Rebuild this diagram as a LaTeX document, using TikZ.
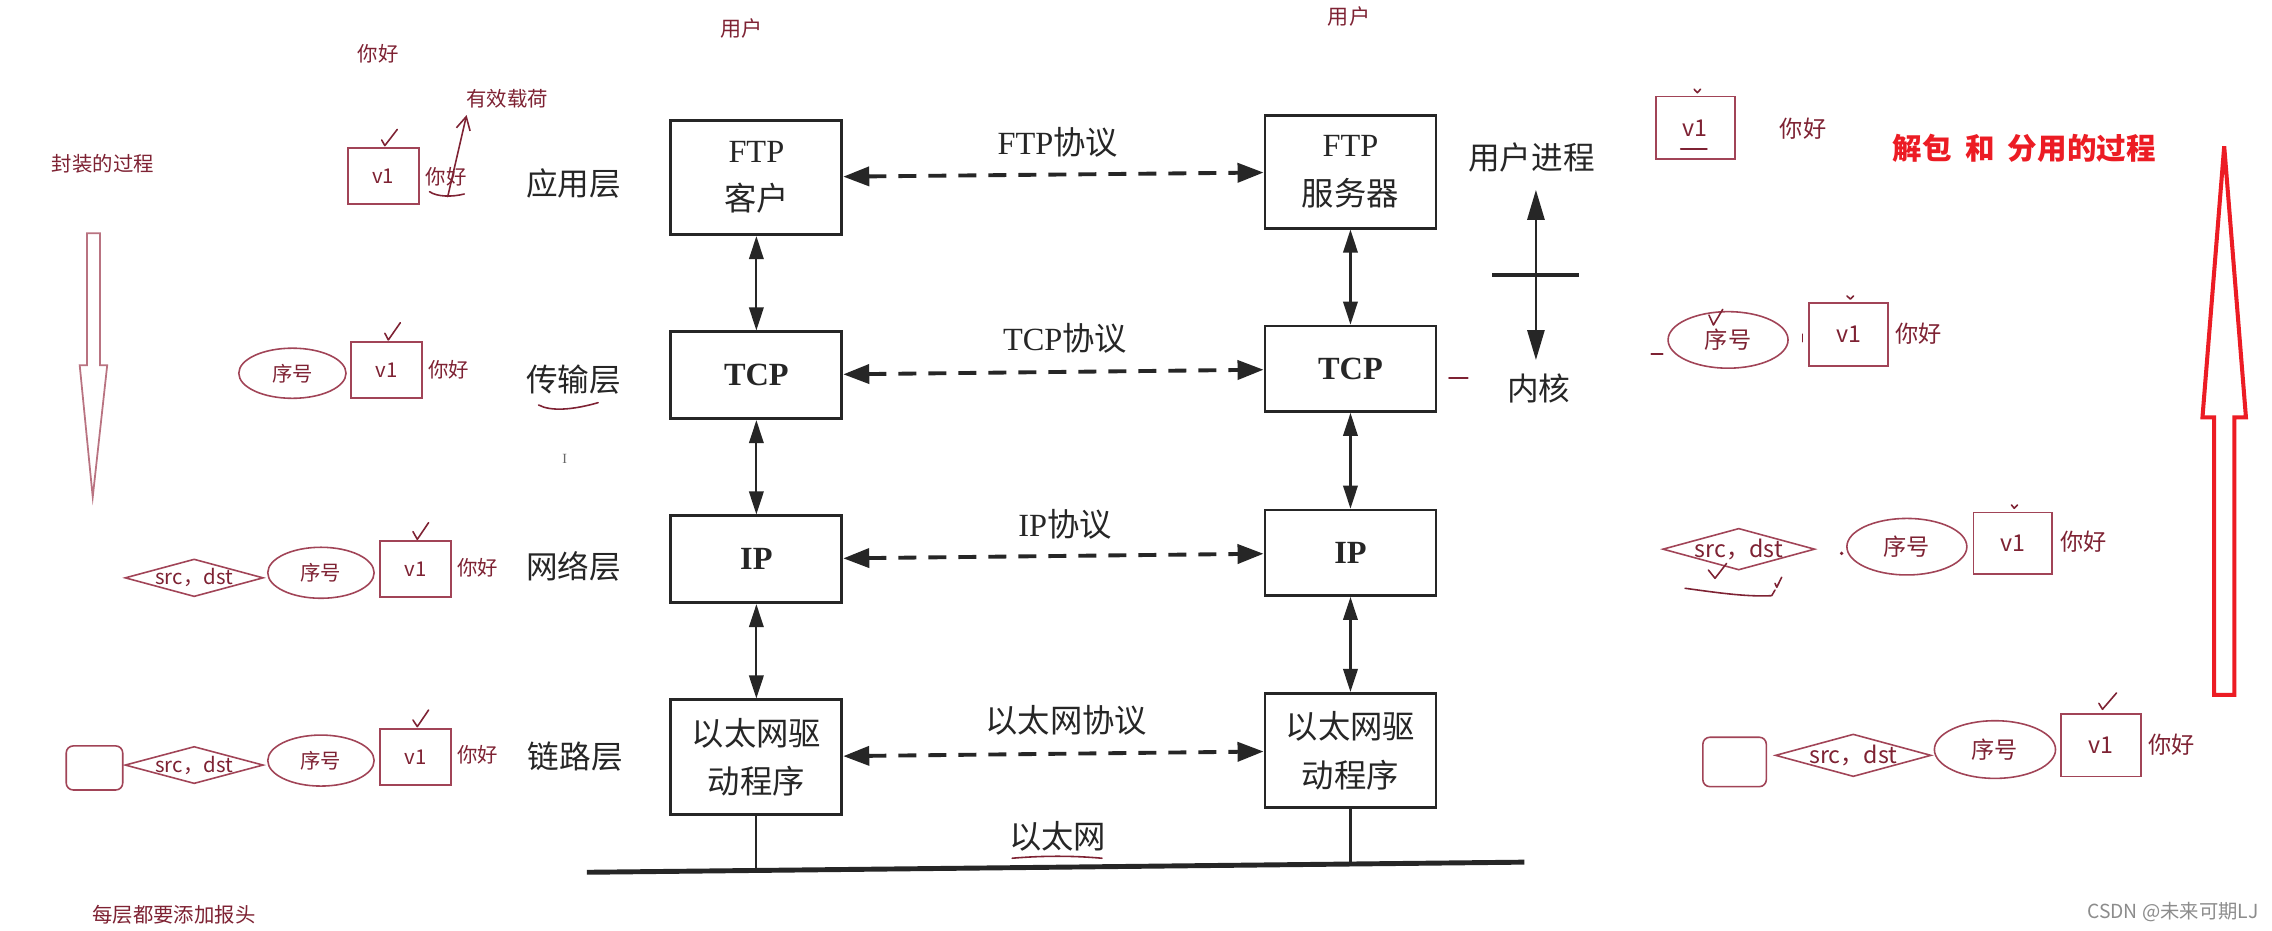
\documentclass[tikz,border=0pt]{standalone}
\usepackage{fontspec}
\setmainfont{Liberation Serif}
\newfontfamily\cjk{Noto Sans CJK SC}
\usetikzlibrary{arrows.meta,shapes.geometric}
\definecolor{ink}{HTML}{262626}
\definecolor{pen}{HTML}{7E2233}
\definecolor{penline}{HTML}{A14457}
\definecolor{alert}{HTML}{EC1C24}
\newcommand{\unitpx}{0.1449mm}

\begin{document}
\begin{tikzpicture}[x=0.1449mm, y=-0.1449mm,
  stackbox/.style={draw=ink, line width=0.8pt, minimum width=118*\unitpx, inner sep=0pt,
    align=center, text=ink, font=\fontsize{9.2}{13.8}\selectfont},
  layername/.style={text=ink, font=\cjk\fontsize{9}{10}\selectfont},
  proto/.style={text=ink, font=\fontsize{9.2}{10}\selectfont},
  updown/.style={ink, line width=0.6pt, arrows={Triangle[length=2.3mm,width=1.45mm]-Triangle[length=2.3mm,width=1.45mm]}},
  peer/.style={ink, line width=1.1pt, dash pattern=on 1.8mm off 1.2mm,
    arrows={Triangle[length=2.6mm,width=1.9mm]-Triangle[length=2.6mm,width=1.9mm]}},
  note/.style={text=pen, inner sep=0pt, font=\cjk\fontsize{5.8}{7}\selectfont},
  bignote/.style={text=pen, inner sep=0pt, font=\cjk\fontsize{6.6}{8}\selectfont},
  lpay/.style={note, draw=penline, line width=0.45pt, minimum width=49*\unitpx, minimum height=38.6*\unitpx},
  rpay/.style={bignote, draw=penline, line width=0.45pt, minimum width=54.6*\unitpx, minimum height=43*\unitpx},
  seqell/.style={ellipse, draw=penline, line width=0.45pt},
  addrdia/.style={diamond, draw=penline, line width=0.45pt, inner sep=0pt},
  framebox/.style={draw=penline, line width=0.45pt, rounded corners=0.7mm, inner sep=0pt},
  scribble/.style={pen, line width=0.45pt, line cap=round, line join=round},
]
  \fill[white] (0,0) rectangle (1568,642);
  \useasboundingbox (0,0) rectangle (1568,642);

  % protocol stacks, client and server
  \node[stackbox, minimum height=79*\unitpx] (ftpc) at (522,122.5) {FTP\\{\cjk 客户}};
  \node[stackbox, minimum height=78*\unitpx] (ftps) at (932,118.5) {FTP\\{\cjk 服务器}};
  \node[stackbox, minimum height=60*\unitpx] (tcpc) at (522,259) {\bfseries TCP};
  \node[stackbox, minimum height=59*\unitpx] (tcps) at (932,254.5) {\bfseries TCP};
  \node[stackbox, minimum height=60*\unitpx] (ipc) at (522,386) {\bfseries IP};
  \node[stackbox, minimum height=59*\unitpx] (ips) at (932,381.5) {\bfseries IP};
  \node[stackbox, minimum height=79*\unitpx] (ethc) at (522,522.5) {{\cjk 以太网驱}\\{\cjk 动程序}};
  \node[stackbox, minimum height=79*\unitpx] (eths) at (932,518) {{\cjk 以太网驱}\\{\cjk 动程序}};

  % layer names
  \node[layername] (lapp) at (396,126.5) {应用层};
  \node[layername] (ltrans) at (396,262) {传输层};
  \node[layername] (lnet) at (396,391) {网络层};
  \node[layername] (llink) at (397,522) {链路层};

  % up and down the stacks
  \draw[updown] (ftpc) -- (tcpc);
  \draw[updown] (tcpc) -- (ipc);
  \draw[updown] (ipc) -- (ethc);
  \draw[updown] (ftps) -- (tcps);
  \draw[updown] (tcps) -- (ips);
  \draw[updown] (ips) -- (eths);

  % peer protocols
  \draw[peer] (ftpc) -- (ftps);
  \draw[peer] (tcpc) -- (tcps);
  \draw[peer] (ipc) -- (ips);
  \draw[peer] (ethc) -- (eths);
  \node[proto] (pftp) at (730,98) {FTP{\cjk 协议}};
  \node[proto] (ptcp) at (735,233.5) {TCP{\cjk 协议}};
  \node[proto] (pip) at (735,362) {IP{\cjk 协议}};
  \node[proto] (peth) at (736,497) {\cjk 以太网协议};

  % ethernet bus
  \coordinate (busw) at (405,602);
  \coordinate (buse) at (1052,595);
  \draw[ink, line width=1.4pt] (busw) -- (buse);
  \draw[ink, line width=0.6pt] (ethc) -- (ethc |- busw);
  \draw[ink, line width=0.6pt] (eths) -- (eths |- buse);
  \node[proto] (lether) at (730,577) {\cjk 以太网};
  \draw[scribble] (698.5,592.3) .. controls (720,590.5) and (740,590.5) .. (760.5,592.3);

  % user process / kernel boundary
  \node[layername] (uproc) at (1057,108.5) {用户进程};
  \node[layername] (kern) at (1062,268) {内核};
  \coordinate (ukup) at (1060,131);
  \coordinate (ukdown) at (1060,248.5);
  \draw[ink, line width=0.8pt, arrows={Triangle[length=3mm,width=1.7mm]-Triangle[length=3mm,width=1.7mm]}] (ukup) -- (ukdown);
  \coordinate (ukl) at (1030,190);
  \coordinate (ukr) at (1090,190);
  \draw[ink, line width=1.1pt] (ukl) -- (ukr);
  \draw[scribble] (1000,261) -- (1013,261);

  % notes on top
  \node[note, font=\cjk\fontsize{6}{7}\selectfont] (usrl) at (512,19.6) {用户};
  \node[note, font=\cjk\fontsize{6}{7}\selectfont] (usrr) at (931,11.5) {用户};
  \node[note] (hitop) at (261,37) {你好};
  \node[note] (payload) at (350,68) {有效载荷};
  \node[note] (encap) at (71,113) {封装的过程};
  \node[note] (rule) at (120,631) {每层都要添加报头};
  \node[text=ink!70, font=\fontsize{4}{4}\selectfont] (cursor) at (389.7,317) {I};

  % encapsulation, going down
  \draw[penline!75, line width=0.5pt] (60,161) -- (69,161) -- (69,252) -- (74,252) -- (64,343)
    -- (55,252) -- (60,252) -- cycle;

  % application layer
  \node[lpay] (v1a) at (264.5,121.6) {v1};
  \node[note] (hia) at (308,122) {你好};
  \draw[scribble] (263.4,96.6) -- (265.6,100.5) -- (274.2,89.3);
  \draw[scribble] (296.4,132.3) .. controls (302,136) and (312,136) .. (320.4,133.9);
  \coordinate (hx) at (309,135.7);
  \coordinate (hy) at (322,79.4);
  \draw[scribble, -{Straight Barb[length=1.3mm,width=1.4mm]}] (hx) -- (hy);

  % transport layer
  \node[seqell, note, minimum width=74*\unitpx, minimum height=34.6*\unitpx] (seqt) at (201.8,257.6) {序号};
  \node[lpay] (v1t) at (266.75,255.5) {v1};
  \node[note] (hit) at (309.6,255) {你好};
  \draw[scribble] (265.6,230) -- (268,234.6) -- (276.3,222.7);
  \draw[scribble] (371.7,279.5) .. controls (380,284) and (395,283) .. (412.8,277.9);

  % network layer
  \node[addrdia, minimum width=95.5*\unitpx, minimum height=26*\unitpx, label={[note]center:src，dst}] (addrn) at (134,398.8) {};
  \node[seqell, note, minimum width=73.4*\unitpx, minimum height=35.2*\unitpx] (seqn) at (221.5,395.3) {序号};
  \node[lpay] (v1n) at (286.9,392.8) {v1};
  \node[note] (hin) at (329.6,392) {你好};
  \draw[scribble] (285,366.9) -- (288,372.2) -- (295.8,360.7);

  % link layer
  \node[framebox, minimum width=39*\unitpx, minimum height=30.4*\unitpx] (framel) at (65.2,530) {};
  \node[addrdia, minimum width=95.5*\unitpx, minimum height=25.7*\unitpx, label={[note]center:src，dst}] (addrl) at (134,528) {};
  \node[seqell, note, minimum width=73.4*\unitpx, minimum height=35.2*\unitpx] (seql) at (221.5,524.9) {序号};
  \node[lpay] (v1l) at (286.9,522.5) {v1};
  \node[note] (hil) at (329.6,521) {你好};
  \draw[scribble] (285,496.9) -- (288,501.5) -- (295.8,490);

  % decapsulation and demultiplexing, going up
  \node[text=alert, font=\cjk\bfseries\fontsize{8.4}{10}\selectfont] (unpack) at (1397,102.4)
    {解包\hspace{0.45em}和\hspace{0.45em}分用的过程};
  \draw[alert, line width=1.15pt, line join=miter] (1528,479.5) -- (1528,288) -- (1520,288) -- (1535,101)
    -- (1550,288) -- (1542,288) -- (1542,479.5) -- cycle;

  % application layer, received
  \node[rpay] (rv1a) at (1170,88.2) {v1};
  \node[bignote] (rhia) at (1244.4,88.6) {你好};
  \draw[scribble] (1169.2,61.6) -- (1171.4,64) -- (1173.6,61.6);
  \draw[scribble] (1159.9,103) -- (1178,103);

  % transport layer, received
  \node[seqell, bignote, minimum width=82.8*\unitpx, minimum height=39*\unitpx] (rseqt) at (1192.6,234.6) {序号};
  \node[rpay, minimum width=54.4*\unitpx, minimum height=43.6*\unitpx] (rv1t) at (1275.8,230.8) {v1};
  \node[bignote] (rhit) at (1324,230) {你好};
  \draw[scribble] (1274.7,204.3) -- (1277,206.4) -- (1279.2,204.3);
  \draw[scribble] (1179.4,217.4) -- (1182.5,224.3) -- (1188.9,213.5);
  \draw[scribble] (1139.6,244.3) -- (1147.5,244.3);
  \draw[scribble] (1243.9,230.7) -- (1243.9,235.8);

  % network layer, received
  \node[addrdia, minimum width=105*\unitpx, minimum height=28.8*\unitpx, label={[bignote]center:src，dst}] (raddrn) at (1200,379) {};
  \node[seqell, bignote, minimum width=82.8*\unitpx, minimum height=39*\unitpx] (rseqn) at (1316,377.3) {序号};
  \node[rpay, minimum width=54.2*\unitpx, minimum height=42.4*\unitpx] (rv1n) at (1389.1,375) {v1};
  \node[bignote] (rhin) at (1438.2,373.8) {你好};
  \draw[scribble] (1388.2,348.5) -- (1390.1,350.8) -- (1392.3,348.5);
  \draw[scribble] (1179,393.4) -- (1183.6,399.1) -- (1191.6,388.8);
  \draw[scribble] (1225,402.6) -- (1226.2,405.3) -- (1229.6,398.4);
  \draw[scribble] (1162.9,406) .. controls (1185,409) and (1205,412) .. (1222.7,411.1) -- (1225,407.2);
  \fill[pen] (1271,381.9) circle (1.3);

  % link layer, received
  \node[framebox, minimum width=43.8*\unitpx, minimum height=34.1*\unitpx] (rframel) at (1197.1,525.85) {};
  \node[addrdia, minimum width=107.5*\unitpx, minimum height=29.4*\unitpx, label={[bignote]center:src，dst}] (raddrl) at (1279,521.3) {};
  \node[seqell, bignote, minimum width=83.6*\unitpx, minimum height=39.8*\unitpx] (rseql) at (1376.8,517.3) {序号};
  \node[rpay, minimum width=55*\unitpx, minimum height=43.2*\unitpx] (rv1l) at (1449.9,514.4) {v1};
  \node[bignote] (rhil) at (1498.8,514.2) {你好};
  \draw[scribble] (1448.5,485.4) -- (1451,489.5) -- (1460.7,478.2);

  \node[text=black!45, font=\cjk\fontsize{5.5}{6}\selectfont] (csdn) at (1499.6,629.2) {CSDN @未来可期LJ};
\end{tikzpicture}
\end{document}
